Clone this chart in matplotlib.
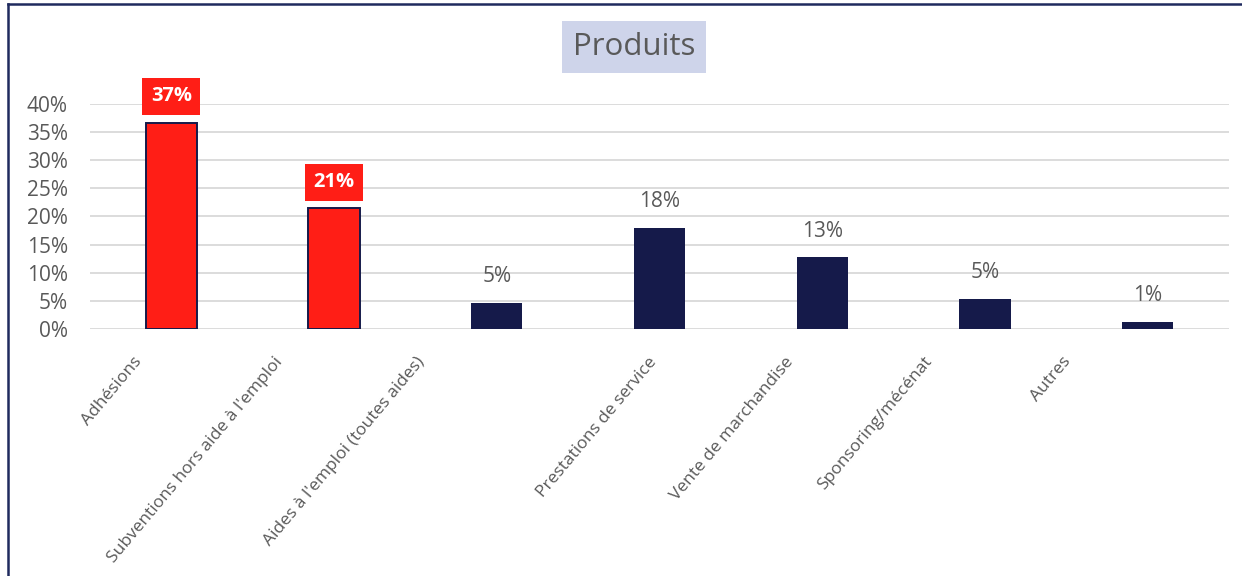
import matplotlib.pyplot as plt
import numpy as np
from matplotlib.lines import Line2D
from matplotlib.transforms import ScaledTranslation

# Répartition des produits (part du total)
categories = [
    "Adhésions",
    "Subventions hors aide à l'emploi",
    "Aides à l'emploi (toutes aides)",
    "Prestations de service",
    "Vente de marchandise",
    "Sponsoring/mécénat",
    "Autres",
]
shares = [0.366, 0.214, 0.046, 0.180, 0.127, 0.054, 0.012]
highlighted = [True, True, False, False, False, False, False]
y_ticks = [0.0, 0.05, 0.10, 0.15, 0.20, 0.25, 0.30, 0.35, 0.40]

NAVY = "#151a4a"
RED = "#ff1e16"
TEXT = "#595959"
GRID = "#d9d9d9"

plt.rcParams["font.family"] = ["Open Sans", "DejaVu Sans"]

W, H, DPI = 1242, 576, 100
fig = plt.figure(figsize=(W / DPI, H / DPI), dpi=DPI)
ax = fig.add_axes([90 / W, 1 - 329 / H, (1229 - 90) / W, (329 - 103.7) / H])

x = np.arange(len(categories))
colors = [RED if h else NAVY for h in highlighted]
ax.bar(x, shares, width=0.315, color=colors, edgecolor=NAVY,
       linewidth=[1.4 if h else 0 for h in highlighted], zorder=3)

ax.set_xlim(-0.5, len(categories) - 0.5)
ax.set_ylim(0, 0.40)
ax.set_yticks(y_ticks)
ax.set_yticklabels([f"{int(round(t * 100))}%" for t in y_ticks])
ax.tick_params(axis="y", length=0, pad=16, labelsize=15, labelcolor=TEXT)
ax.tick_params(axis="x", length=0, labelbottom=False)
ax.grid(axis="y", color=GRID, linewidth=1.3, zorder=0)
for s in ax.spines.values():
    s.set_visible(False)

# Étiquettes de valeur au-dessus des barres
for xi, v, h in zip(x, shares, highlighted):
    label = f"{int(np.floor(v * 100 + 0.5))}%"
    if h:
        ax.annotate(label, (xi, v), xytext=(0, 19), textcoords="offset points",
                    ha="center", va="center", fontsize=14.5, fontweight="bold",
                    color="white", annotation_clip=False,
                    bbox=dict(boxstyle="square,pad=0.42", fc=RED, ec="none"))
    else:
        ax.annotate(label, (xi, v), xytext=(0, 19), textcoords="offset points",
                    ha="center", va="center", fontsize=15, color=TEXT,
                    annotation_clip=False)

# Libellés de catégories inclinés (décalage propre à chaque libellé, en px)
label_shift_px = [38, 60, 81, 12, 38, 62, 86]
for xi, name, dx in zip(x, categories, label_shift_px):
    tr = ax.get_xaxis_transform() + ScaledTranslation(-dx / DPI, -25 / DPI, fig.dpi_scale_trans)
    ax.text(xi, 0, name, transform=tr, rotation=50, rotation_mode="anchor",
            ha="right", va="top", fontsize=12.5, color=TEXT)

# Titre encadré
fig.text(634 / W, 1 - 47 / H, "Produits", ha="center", va="center",
         fontsize=22.5, color=TEXT,
         bbox=dict(boxstyle="square,pad=0.36", fc="#ced4ea", ec="none"))

# Cadre du graphique
fig.add_artist(Line2D([8 / W, 8 / W], [0, 1 - 4 / H], transform=fig.transFigure,
                      color="#1f2a5e", linewidth=1.8))
fig.add_artist(Line2D([8 / W, 1], [1 - 4 / H, 1 - 4 / H], transform=fig.transFigure,
                      color="#1f2a5e", linewidth=1.8))

fig.savefig("out.png", dpi=DPI, facecolor="white")
